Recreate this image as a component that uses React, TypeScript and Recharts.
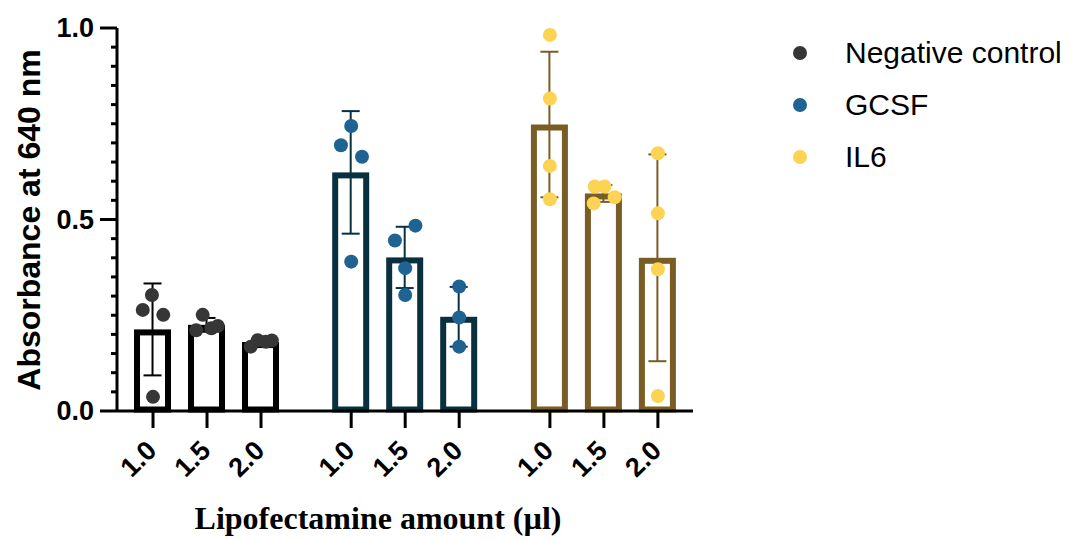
import React from "react";
import { ComposedChart, Bar, ErrorBar, Scatter, XAxis, YAxis, Legend } from "recharts";

// x positions of the bars (numeric axis so the groups can have wider gaps)
const amounts = ["1.0", "1.5", "2.0"];
const groupNames = ["Negative control", "GCSF", "IL6"];
const groupKeys = ["neg", "gcsf", "il6"];
const positions = [
  [0, 1, 2],
  [3.67, 4.67, 5.67],
  [7.35, 8.35, 9.35],
];

const negMeans = [0.213, 0.225, 0.18];
const negSd = [0.12, 0.018, 0.008];
const gcsfMeans = [0.623, 0.401, 0.246];
const gcsfSd = [0.16, 0.08, 0.078];
const il6Means = [0.748, 0.568, 0.4];
const il6Sd = [0.19, 0.022, 0.27];

// replicate points and their horizontal jitter (in x-axis units)
const negReps = [
  [0.303, 0.264, 0.251, 0.037],
  [0.251, 0.211, 0.216, 0.222],
  [0.168, 0.185, 0.181, 0.184],
];
const negJitter = [
  [-0.02, -0.19, 0.19, 0],
  [-0.08, -0.2, 0.08, 0.2],
  [-0.19, -0.06, 0.09, 0.2],
];
const gcsfReps = [
  [0.744, 0.694, 0.664, 0.39],
  [0.445, 0.484, 0.373, 0.303],
  [0.325, 0.244, 0.168],
];
const gcsfJitter = [
  [0, -0.19, 0.2, 0],
  [-0.19, 0.19, 0, 0],
  [0, 0, 0],
];
const il6Reps = [
  [0.982, 0.816, 0.64, 0.553],
  [0.586, 0.586, 0.542, 0.558],
  [0.673, 0.516, 0.37, 0.039],
];
const il6Jitter = [
  [0, 0, 0, 0],
  [-0.17, 0.01, -0.19, 0.2],
  [0, 0, 0, 0],
];

const yTicks = [
  0, 0.05, 0.1, 0.15, 0.2, 0.25, 0.3, 0.35, 0.4, 0.45, 0.5,
  0.55, 0.6, 0.65, 0.7, 0.75, 0.8, 0.85, 0.9, 0.95, 1.0,
];
const majorTicks = [0, 0.5, 1.0];
const majorLabels = ["0.0", "0.5", "1.0"];

const dotColors = ["#363636", "#1f6393", "#fcd353"];
const barColors = ["#000000", "#08303f", "#7a5c25"];

const means = [negMeans, gcsfMeans, il6Means];
const sds = [negSd, gcsfSd, il6Sd];
const reps = [negReps, gcsfReps, il6Reps];
const jitters = [negJitter, gcsfJitter, il6Jitter];

const chartData = positions.flatMap((pos, g) =>
  pos.map((x, i) => {
    const row: Record<string, number | null> = { x };
    groupKeys.forEach((k, j) => {
      row[k] = j === g ? means[g][i] : null;
      row[k + "Sd"] = j === g ? sds[g][i] : null;
    });
    return row;
  })
);

const pointData = reps.map((grp, g) =>
  grp.flatMap((vals, i) =>
    vals.map((y, r) => ({ x: positions[g][i] + jitters[g][i][r], y }))
  )
);

const allPositions = positions.flat();
const X_DOMAIN: [number, number] = [-0.667, 10];
const SANS = "'Liberation Sans', Arial, sans-serif";
const BAR_SW = 6;
const Y_TICK = 17;
const Y_GAP = 6;

const InsetBar = (props: any) => {
  const { x, y, width, height, color } = props;
  if (!height || height <= 0) return null;
  const h = BAR_SW / 2;
  return (
    <rect
      x={x + h}
      y={y + h}
      width={width - BAR_SW}
      height={height - h - 1.5}
      fill="#ffffff"
      stroke={color}
      strokeWidth={BAR_SW}
    />
  );
};

const YTick = (props: any) => {
  const { x, y, payload } = props;
  const ax = x + Y_TICK + Y_GAP;
  const k = majorTicks.indexOf(payload.value);
  const major = k >= 0;
  return (
    <g>
      <line x1={ax - (major ? Y_TICK : 6)} x2={ax} y1={y} y2={y} stroke="#000" strokeWidth={3} />
      {major && (
        <text x={x} y={y} textAnchor="end" dominantBaseline="central" fontFamily={SANS} fontWeight="bold" fontSize={27} fill="#000">
          {majorLabels[k]}
        </text>
      )}
    </g>
  );
};

const XTick = (props: any) => {
  const { x, y, payload } = props;
  const idx = allPositions.indexOf(payload.value);
  return (
    <g transform={`translate(${x + 5},${y + 22})`}>
      <text textAnchor="end" transform="rotate(-45)" fontFamily={SANS} fontWeight="bold" fontSize={27} fill="#000">
        {amounts[idx % 3]}
      </text>
    </g>
  );
};

const LegendBox = () => (
  <div style={{ fontFamily: SANS, fontSize: 30, color: "#000" }}>
    {groupNames.map((name, g) => (
      <div key={name} style={{ height: 52, display: "flex", alignItems: "center" }}>
        <svg width={40} height={20} style={{ marginLeft: 0, marginRight: 25 }}>
          <circle cx={20} cy={10} r={7} fill={dotColors[g]} />
        </svg>
        <span>{name}</span>
      </div>
    ))}
  </div>
);

export default function App() {
  return (
    <div style={{ position: "absolute", left: 0, top: 0 }}>
      <ComposedChart
        width={1070}
        height={539}
        data={chartData}
        margin={{ top: 28, right: 377, bottom: 0, left: 0 }}
      >
        <XAxis
          xAxisId={0}
          dataKey="x"
          type="number"
          domain={X_DOMAIN}
          allowDataOverflow
          ticks={allPositions}
          interval={0}
          height={128}
          axisLine={{ stroke: "#000", strokeWidth: 3 }}
          tickLine={{ stroke: "#000", strokeWidth: 3 }}
          tickSize={17}
          tick={<XTick />}
          label={{
            value: "Lipofectamine amount (µl)",
            content: () => (
              <text x={378} y={529} textAnchor="middle" fontFamily="'Liberation Serif', 'Times New Roman', serif" fontWeight="bold" fontSize={32} fill="#000">
                Lipofectamine amount (µl)
              </text>
            ),
          }}
        />
        <XAxis xAxisId={1} dataKey="x" type="number" domain={X_DOMAIN} allowDataOverflow hide />
        <XAxis xAxisId={2} dataKey="x" type="number" domain={X_DOMAIN} allowDataOverflow hide />
        <XAxis xAxisId="pts" dataKey="x" type="number" domain={X_DOMAIN} allowDataOverflow hide />
        <YAxis
          type="number"
          domain={[0, 1]}
          ticks={yTicks}
          interval={0}
          width={117}
          axisLine={{ stroke: "#000", strokeWidth: 3 }}
          tickLine={false}
          tickSize={Y_TICK}
          tickMargin={Y_GAP}
          tick={<YTick />}
          label={{
            value: "Absorbance at 640 nm",
            content: () => (
              <text x={29} y={220} transform="rotate(-90 29 220)" textAnchor="middle" dominantBaseline="central" fontFamily={SANS} fontWeight="bold" fontSize={32} fill="#000">
                Absorbance at 640 nm
              </text>
            ),
          }}
        />
        <Legend
          layout="horizontal"
          verticalAlign="middle"
          align="center"
          wrapperStyle={{ left: 780, top: 27, width: 290, height: 160 }}
          content={() => <LegendBox />}
        />
        {groupKeys.map((k, g) => (
          <Bar
            key={k}
            dataKey={k}
            name={groupNames[g]}
            xAxisId={g}
            barSize={37}
            isAnimationActive={false}
            shape={(p: any) => <InsetBar {...p} color={barColors[g]} />}
          >
            <ErrorBar dataKey={k + "Sd"} width={9} stroke={barColors[g]} strokeWidth={2} direction="y" />
          </Bar>
        ))}
        {pointData.map((pts, g) => (
          <Scatter
            key={"pts" + g}
            data={pts}
            dataKey="y"
            xAxisId="pts"
            legendType="none"
            isAnimationActive={false}
            shape={(p: any) => <circle cx={p.cx} cy={p.cy} r={7} fill={dotColors[g]} />}
          />
        ))}
      </ComposedChart>
    </div>
  );
}
